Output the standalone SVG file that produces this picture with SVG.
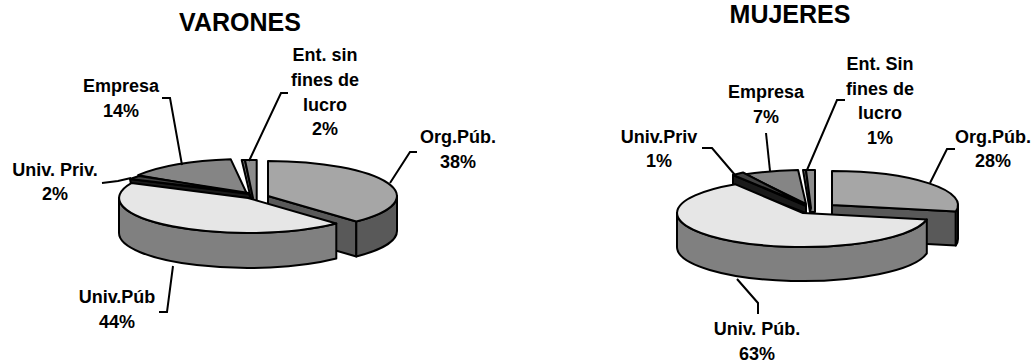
<svg xmlns="http://www.w3.org/2000/svg" width="1034" height="362" viewBox="0 0 1034 362">
  <style>
    .lbl { font-family: "Liberation Sans", Arial, sans-serif; font-weight: bold; font-size: 18px; fill: #000; text-anchor: middle; }
    .ttl { font-family: "Liberation Sans", Arial, sans-serif; font-weight: bold; font-size: 25px; fill: #000; text-anchor: middle; }
    .edge { stroke: #000; stroke-width: 2; stroke-linejoin: round; }
    .lead { fill: none; stroke: #000; stroke-width: 2; stroke-linejoin: miter; }
    .orgTop { fill: #a6a6a6; }
    .orgSide { fill: #595959; }
    .pubTop { fill: #e6e6e6; }
    .pubSide { fill: #808080; }
    .empTop { fill: #858585; }
    .privTop { fill: #404040; }
    .privSide { fill: #1a1a1a; }
    .entTop { fill: #8c8c8c; }
    .entSide { fill: #6b6b6b; }
  </style>

  <!-- ===== Left pie: VARONES ===== -->
  <text class="ttl" x="240" y="31">VARONES</text>

  <g id="v-ent">
    <path class="edge entSide" d="M241.7,160 L245,160 L253,198 L251.7,201.7 Z"/>
    <path class="edge entTop" d="M245,160 L256.7,160 L256.7,201.7 L251.7,201.7 L253,198 Z"/>
  </g>
  <g id="v-empresa">
    <path class="edge empTop" d="M247,194 L138.1,175.2 A129,35 0 0 1 230.8,159.3 Z"/>
  </g>
  <g id="v-univpriv">
    <path class="edge privSide" d="M130,179 L249,194 L251,198.5 L131,184 Z"/>
    <path class="edge privTop" d="M130,179 L139,176 L249,193 Z"/>
  </g>
  <g id="v-orgpub">
    <path class="edge orgSide" d="M268,196 L356.3,221.5 L356.3,256.5 L268,231 Z"/>
    <path class="edge orgSide" d="M397,196 A129,35 0 0 1 356.3,221.5 L356.3,256.5 A129,35 0 0 0 397,231 Z"/>
    <path class="edge orgTop" d="M268,196 L268,161 A129,35 0 0 1 356.3,221.5 Z"/>
  </g>
  <g id="v-univpub">
    <path class="edge pubSide" d="M336.3,223.5 A129,35 0 0 1 119,198 L119,233 A129,35 0 0 0 336.3,258.5 Z"/>
    <path class="edge pubTop" d="M248,198 L336.3,223.5 A129,35 0 0 1 131.3,183.1 Z"/>
  </g>

  <g id="v-labels">
    <text class="lbl" x="325" y="61">Ent. sin</text>
    <text class="lbl" x="325" y="86">fines de</text>
    <text class="lbl" x="325" y="111">lucro</text>
    <text class="lbl" x="325" y="135">2%</text>
    <text class="lbl" x="121" y="92">Empresa</text>
    <text class="lbl" x="121" y="117">14%</text>
    <text class="lbl" x="458" y="143">Org.Púb.</text>
    <text class="lbl" x="458" y="168">38%</text>
    <text class="lbl" x="55" y="176">Univ. Priv.</text>
    <text class="lbl" x="55" y="200">2%</text>
    <text class="lbl" x="117" y="303">Univ.Púb</text>
    <text class="lbl" x="117" y="328">44%</text>
  </g>

  <g id="v-connectors">
    <polyline class="lead" points="162,98 170,98 182,165"/>
    <polyline class="lead" points="288,93 281,93 249,161"/>
    <polyline class="lead" points="417,152 410,152 390,183"/>
    <polyline class="lead" points="173,266 167,312 159,312"/>
    <polyline class="lead" points="102,183 118,181 131,178"/>
  </g>

  <!-- ===== Right pie: MUJERES ===== -->
  <text class="ttl" x="790" y="23">MUJERES</text>

  <g id="m-ent">
    <path class="edge entSide" d="M803,170 L806,170 L811,208 L810,212 Z"/>
    <path class="edge entTop" d="M806,170 L815,170 L815,212 L810,212 L811,208 Z"/>
  </g>
  <g id="m-empresa">
    <path class="edge empTop" d="M806,204 L745.3,174.2 A126,34 0 0 1 798.1,170.1 Z"/>
  </g>
  <g id="m-univpriv">
    <path class="edge privSide" d="M733,175 L806,206 L806,213 L733,185.5 Z"/>
    <path class="edge privTop" d="M733,175 L743,172.5 L806,205 Z"/>
  </g>
  <g id="m-orgpub">
    <path class="edge orgSide" d="M832,205 L955.8,211.4 L955.8,245.4 L832,239 Z"/>
    <path class="edge orgSide" d="M958,205 A126,34 0 0 1 955.8,211.4 L955.8,245.4 A126,34 0 0 0 958,239 Z"/>
    <path class="edge orgTop" d="M832,205 L832,171 A126,34 0 0 1 955.8,211.4 Z"/>
  </g>
  <g id="m-univpub">
    <path class="edge pubSide" d="M926.8,219.4 A126,34 0 0 1 677,213 L677,247 A126,34 0 0 0 926.8,253.4 Z"/>
    <path class="edge pubTop" d="M803,213 L926.8,219.4 A126,34 0 1 1 735.5,184.3 Z"/>
  </g>

  <g id="m-labels">
    <text class="lbl" x="880" y="70">Ent. Sin</text>
    <text class="lbl" x="880" y="95">fines de</text>
    <text class="lbl" x="880" y="119">lucro</text>
    <text class="lbl" x="880" y="144">1%</text>
    <text class="lbl" x="766" y="98">Empresa</text>
    <text class="lbl" x="766" y="123">7%</text>
    <text class="lbl" x="993" y="143">Org.Púb.</text>
    <text class="lbl" x="993" y="167">28%</text>
    <text class="lbl" x="659" y="143">Univ.Priv</text>
    <text class="lbl" x="659" y="167">1%</text>
    <text class="lbl" x="757" y="335">Univ. Púb.</text>
    <text class="lbl" x="757" y="360">63%</text>
  </g>

  <g id="m-connectors">
    <polyline class="lead" points="766,133 770,171"/>
    <polyline class="lead" points="845,100 837,100 807,170"/>
    <polyline class="lead" points="955,149 947,149 930,183"/>
    <polyline class="lead" points="702,148 712,148 735,175"/>
    <polyline class="lead" points="737,279 758,303 758,314"/>
  </g>
</svg>
